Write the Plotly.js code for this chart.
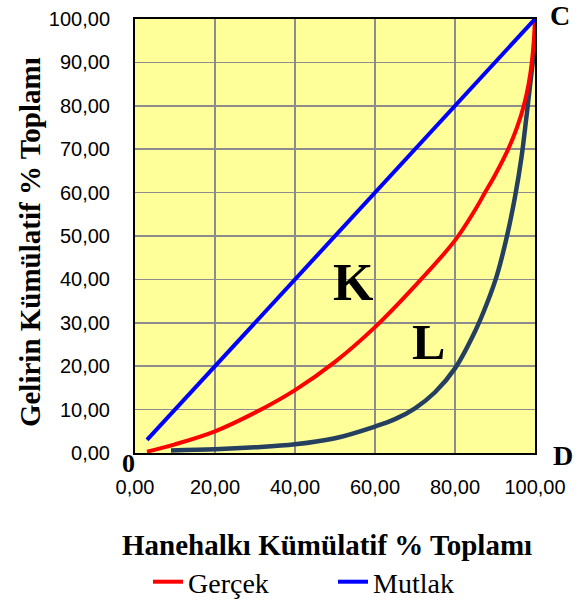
<!DOCTYPE html>
<html>
<head>
<meta charset="utf-8">
<script src="https://cdn.plot.ly/plotly-3.0.1.min.js"></script>
<style>body{margin:0;background:#fff}#chart{width:580px;height:606px}</style>
</head>
<body>
<div id="chart"></div>
<script>
// Gerçek (actual Lorenz curve)
const gercekX = [3, 10, 20, 30, 40, 50, 60, 70, 80, 85, 87.5, 90, 93.3, 95.5, 97.2, 98.4, 99.2, 99.7, 100];
const gercekY = [0.3, 2, 5, 9.3, 14.5, 21, 29, 38.5, 49, 56, 60, 64, 70, 75, 80, 85, 90, 95, 100];
// Mutlak (perfect equality line)
const mutlakX = [3, 100];
const mutlakY = [3, 100];
// Third curve (L)
const lX = [9, 20, 30, 40, 50, 60, 65, 70, 75, 80, 85, 88, 90.5, 93, 95, 96.6, 97.8, 98.8, 99.5, 99.8];
const lY = [0.6, 0.85, 1.3, 2, 3.4, 6.1, 7.8, 10.3, 14, 19.5, 28, 34.5, 41, 50, 59, 68, 77, 85, 90.5, 92.5];

const xTitle = 'Hanehalkı Kümülatif % Toplamı';
const yTitle = 'Gelirin Kümülatif % Toplamı';

const traces = [
  {x: lX, y: lY, mode: 'lines', line: {color: '#243F60', width: 4.5, shape: 'spline', smoothing: 1}, showlegend: false, hoverinfo: 'skip'},
  {x: gercekX, y: gercekY, mode: 'lines', name: 'Gerçek', line: {color: '#FF0000', width: 4, shape: 'spline', smoothing: 1}},
  {x: mutlakX, y: mutlakY, mode: 'lines', name: 'Mutlak', line: {color: '#0000FF', width: 4}}
];

const serif = 'Liberation Serif, Times New Roman, serif';
const sans = 'Liberation Sans, Arial, sans-serif';

const layout = {
  width: 580, height: 606,
  margin: {l: 135, r: 45, t: 19, b: 153},
  paper_bgcolor: '#FFFFFF',
  plot_bgcolor: '#FFFF99',
  separators: ',.',
  showlegend: true,
  legend: {orientation: 'h', xref: 'paper', x: 0.0325, xanchor: 'left', yref: 'container', y: 0.0396, yanchor: 'middle',
           entrywidth: 140, entrywidthmode: 'pixels',
           font: {family: serif, size: 28, color: '#000'}, traceorder: 'normal'},
  xaxis: {range: [0, 100], dtick: 20, tickformat: '.2f', showgrid: true, gridcolor: '#8C8C8C', gridwidth: 1.5,
          showline: true, linecolor: '#000', linewidth: 2, mirror: true, zeroline: false, ticks: '',
          automargin: false, ticklabelstandoff: 15,
          tickfont: {family: sans, size: 20, color: '#000'}},
  yaxis: {range: [0, 100], dtick: 10, tickformat: '.2f', showgrid: true, gridcolor: '#8C8C8C', gridwidth: 1.5,
          showline: true, linecolor: '#000', linewidth: 2, mirror: true, zeroline: false, ticks: '',
          automargin: false, ticklabelstandoff: 19,
          tickfont: {family: sans, size: 20, color: '#000'}},
  annotations: [
    {x: 0.479, y: -0.212, xref: 'paper', yref: 'paper', xanchor: 'center', yanchor: 'middle', text: xTitle, showarrow: false, font: {family: serif, size: 29, color: '#000', weight: 'bold'}},
    {x: -0.2625, y: 0.486, xref: 'paper', yref: 'paper', xanchor: 'center', yanchor: 'middle', textangle: -90, text: yTitle, showarrow: false, font: {family: serif, size: 29, color: '#000', weight: 'bold'}},
    {x: 54.7, y: 39.4, xref: 'x', yref: 'y', text: 'K', showarrow: false, font: {family: serif, size: 52, color: '#000', weight: 'bold'}},
    {x: 73.3, y: 25.6, xref: 'x', yref: 'y', text: 'L', showarrow: false, font: {family: serif, size: 50, color: '#000', weight: 'bold'}},
    {x: 1.0, y: 1.0, xref: 'paper', yref: 'paper', xanchor: 'center', yanchor: 'middle', xshift: 25, yshift: 4, text: 'C', showarrow: false, font: {family: serif, size: 28, color: '#000', weight: 'bold'}},
    {x: 1.0, y: 0.0, xref: 'paper', yref: 'paper', xanchor: 'center', yanchor: 'middle', xshift: 28, yshift: -2, text: 'D', showarrow: false, font: {family: serif, size: 28, color: '#000', weight: 'bold'}},
    {x: 0.0, y: 0.0, xref: 'paper', yref: 'paper', xanchor: 'center', yanchor: 'middle', xshift: -7, yshift: -10, text: '0', showarrow: false, font: {family: serif, size: 26, color: '#000', weight: 'bold'}}
  ]
};

Plotly.newPlot('chart', traces, layout, {displayModeBar: false, staticPlot: true});
</script>
</body>
</html>
